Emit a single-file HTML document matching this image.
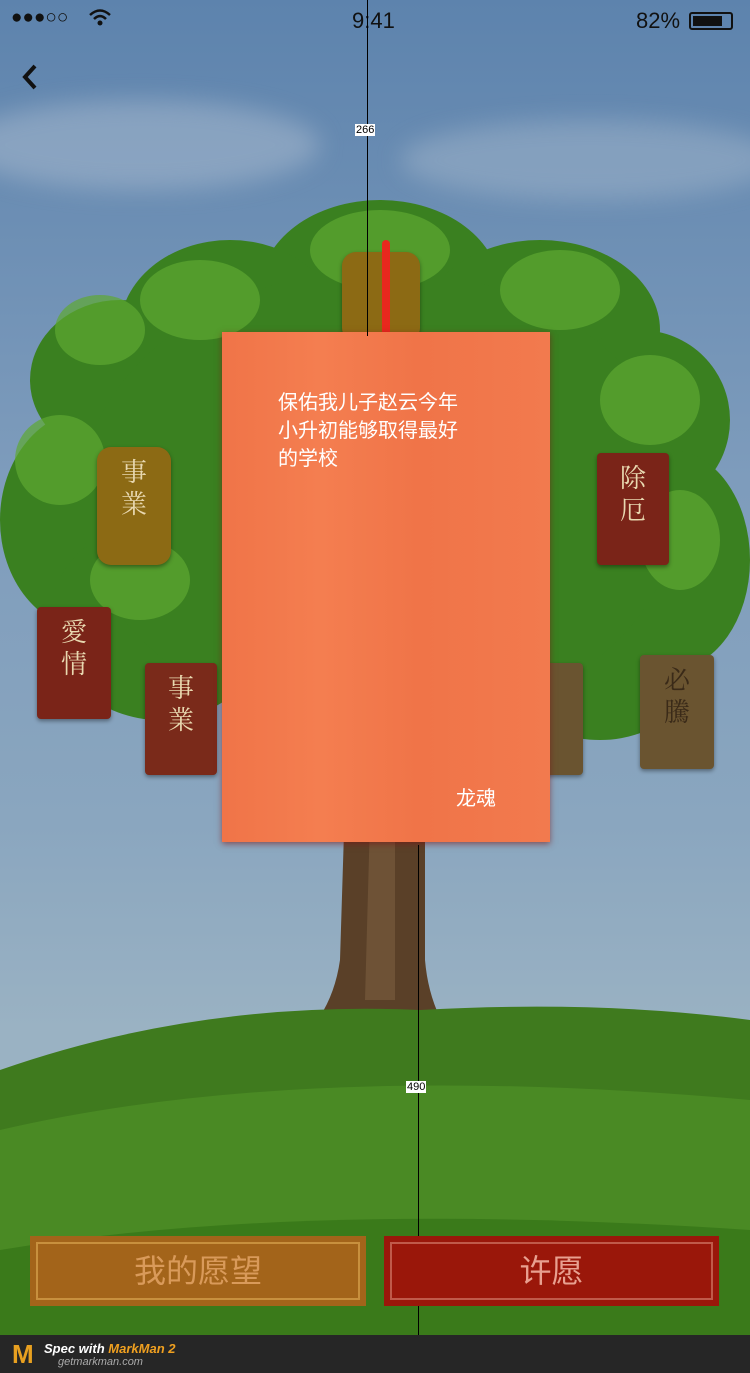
<!DOCTYPE html>
<html><head><meta charset="utf-8">
<style>
*{margin:0;padding:0;box-sizing:border-box}
body{width:750px;height:1373px;overflow:hidden;position:relative;font-family:"Liberation Sans","Noto Sans CJK SC",sans-serif;background:linear-gradient(#5d83ad 0%,#7e9cbc 35%,#8aa6bf 60%,#9ab2c3 75%)}
.abs{position:absolute}
.plq{position:absolute;color:#e8d8b0;font-family:"Noto Serif CJK SC","Noto Sans CJK SC",serif;font-size:26px;text-align:center;line-height:32px;padding-top:8px;border-radius:4px;box-shadow:0 2px 4px rgba(0,0,0,.4)}
</style></head><body>
<div class="abs" style="left:11px;top:7px;font-size:19px;color:#111;letter-spacing:0px">●●●○○</div>
<div class="abs" style="left:88px;top:8px;width:24px;height:18px">
<svg width="24" height="18"><path d="M2 7 Q12 -2 22 7" stroke="#111" stroke-width="2.5" fill="none"/><path d="M6 11 Q12 5 18 11" stroke="#111" stroke-width="2.5" fill="none"/><circle cx="12" cy="15" r="2.5" fill="#111"/></svg></div>
<div class="abs" style="left:352px;top:8px;font-size:22px;color:#111">9:41</div>
<div class="abs" style="left:636px;top:8px;font-size:22px;color:#111">82%</div>
<div class="abs" style="left:689px;top:12px;width:44px;height:18px;border:2px solid #111;border-radius:3px;padding:2px"><div style="width:80%;height:100%;background:#111"></div></div>
<div class="abs" style="left:18px;top:62px;width:24px;height:30px"><svg width="24" height="30"><path d="M17 4 L7 15 L17 26" stroke="#111" stroke-width="4" fill="none"/></svg></div>
<div class="abs" style="left:-40px;top:100px;width:360px;height:90px;border-radius:50%;background:rgba(200,210,220,.35);filter:blur(12px)"></div>
<div class="abs" style="left:400px;top:120px;width:380px;height:80px;border-radius:50%;background:rgba(200,210,220,.3);filter:blur(12px)"></div>
<svg class="abs" style="left:0;top:0" width="750" height="1373">
<path d="M345 800 L340 960 Q330 1030 270 1060 L470 1060 Q430 1020 425 960 L425 800Z" fill="#5a4028"/>
<path d="M370 820 L365 1000 L395 1000 L395 820Z" fill="#6e5236"/>
<g fill="#3a8020">
<ellipse cx="380" cy="290" rx="120" ry="90"/><ellipse cx="230" cy="330" rx="110" ry="90"/><ellipse cx="540" cy="330" rx="120" ry="90"/>
<ellipse cx="120" cy="380" rx="90" ry="80"/><ellipse cx="640" cy="420" rx="90" ry="90"/><ellipse cx="90" cy="520" rx="90" ry="110"/>
<ellipse cx="670" cy="560" rx="80" ry="110"/><ellipse cx="160" cy="620" rx="110" ry="100"/><ellipse cx="600" cy="640" rx="110" ry="100"/>
<ellipse cx="380" cy="500" rx="300" ry="230"/></g>
<g fill="#5ea832" opacity=".7">
<ellipse cx="380" cy="250" rx="70" ry="40"/><ellipse cx="200" cy="300" rx="60" ry="40"/><ellipse cx="560" cy="290" rx="60" ry="40"/>
<ellipse cx="100" cy="330" rx="45" ry="35"/><ellipse cx="650" cy="400" rx="50" ry="45"/><ellipse cx="60" cy="460" rx="45" ry="45"/>
<ellipse cx="680" cy="540" rx="40" ry="50"/><ellipse cx="140" cy="580" rx="50" ry="40"/></g>
<path d="M0 1070 Q200 1000 420 1010 Q600 1000 750 1020 L750 1373 L0 1373Z" fill="#3f7a1e"/>
<path d="M0 1130 Q300 1060 750 1100 L750 1373 L0 1373Z" fill="#4a8a24"/>
<path d="M0 1250 Q300 1200 750 1230 L750 1373 L0 1373Z" fill="#3a7a1a"/>
</svg>
<div class="plq" style="left:97px;top:447px;width:74px;height:118px;background:#8c6a14;border-radius:14px">事<br>業</div>
<div class="plq" style="left:37px;top:607px;width:74px;height:112px;background:#7a2418">愛<br>情</div>
<div class="plq" style="left:145px;top:663px;width:72px;height:112px;background:#7a2a1a">事<br>業</div>
<div class="plq" style="left:597px;top:453px;width:72px;height:112px;background:#7a2418">除<br>厄</div>
<div class="plq" style="left:640px;top:655px;width:74px;height:114px;background:#6a5430;color:#3a2a18">必<br>騰</div>
<div class="plq" style="left:342px;top:252px;width:78px;height:90px;background:#8c6a14;border-radius:14px"></div>
<div class="plq" style="left:545px;top:663px;width:38px;height:112px;background:#6a5430"></div>
<div class="abs" style="left:382px;top:240px;width:8px;height:112px;background:#e8281e;border-radius:4px"></div>
<div class="abs" style="left:222px;top:332px;width:328px;height:510px;background:linear-gradient(90deg,#f07448,#f47e50 30%,#f07448 60%,#f27a4e);box-shadow:0 2px 6px rgba(120,20,20,.6)">
<div class="abs" style="left:56px;top:57px;width:192px;color:#fff;font-size:20px;line-height:28px">保佑我儿子赵云今年小升初能够取得最好的学校</div>
<div class="abs" style="left:234px;top:450px;color:#fff;font-size:20px">龙魂</div>
</div>
<div class="abs" style="left:367px;top:0;width:1px;height:336px;background:#000"></div>
<div class="abs" style="left:355px;top:124px;font-size:11px;background:#fff;padding:0 1px">266</div>
<div class="abs" style="left:418px;top:845px;width:1px;height:490px;background:#000"></div>
<div class="abs" style="left:406px;top:1081px;font-size:11px;background:#fff;padding:0 1px">490</div>
<div class="abs" style="left:30px;top:1236px;width:336px;height:70px;background:#a3641a;color:#d99a5a;font-size:32px;text-align:center;line-height:70px">
<div class="abs" style="left:6px;top:6px;right:6px;bottom:6px;border:2px solid #c8903e"></div>我的愿望</div>
<div class="abs" style="left:384px;top:1236px;width:335px;height:70px;background:#9a170a;color:#e8a090;font-size:32px;text-align:center;line-height:70px">
<div class="abs" style="left:6px;top:6px;right:6px;bottom:6px;border:2px solid #c05a4a"></div>许愿</div>
<div class="abs" style="left:0;top:1335px;width:750px;height:38px;background:#262626">
<div class="abs" style="left:12px;top:6px;font-size:26px;font-weight:bold;color:#e8a020;line-height:26px">M</div>
<div class="abs" style="left:44px;top:6px;font-size:13px;font-style:italic;font-weight:bold;color:#fff">Spec with <span style="color:#f0a020">MarkMan 2</span></div>
<div class="abs" style="left:58px;top:21px;font-size:11px;font-style:italic;color:#aaa">getmarkman.com</div>
</div>
</body></html>
